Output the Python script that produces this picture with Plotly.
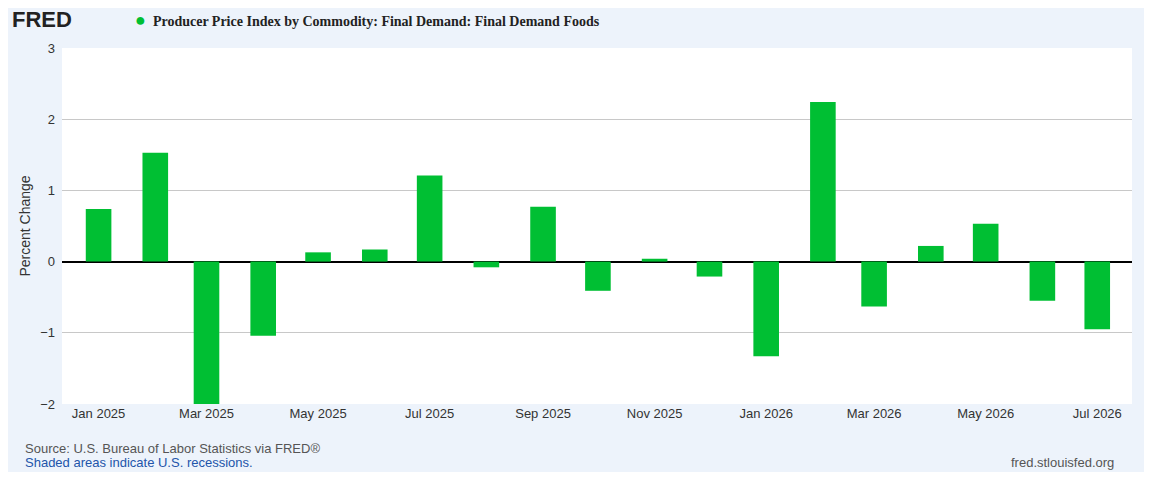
import plotly.graph_objects as go

months = ["2025-01-01", "2025-02-01", "2025-03-01", "2025-04-01", "2025-05-01", "2025-06-01",
          "2025-07-01", "2025-08-01", "2025-09-01", "2025-10-01", "2025-11-01", "2025-12-01",
          "2026-01-01", "2026-02-01", "2026-03-01", "2026-04-01", "2026-05-01", "2026-06-01",
          "2026-07-01"]
pct_change = [0.74, 1.53, -2.0, -1.04, 0.13, 0.17, 1.21, -0.08, 0.77, -0.41, 0.04, -0.21,
              -1.33, 2.24, -0.63, 0.22, 0.53, -0.55, -0.95]

fig = go.Figure(go.Bar(x=months, y=pct_change, marker_color="#00bf33",
                       marker_line_width=0, width=1000 * 3600 * 24 * 14))

fig.update_layout(
    width=1136, height=464,
    paper_bgcolor="#edf3fb", plot_bgcolor="white",
    margin=dict(l=54, r=12, t=40, b=68),
    showlegend=False,
    font=dict(family="Liberation Sans, Arial", size=13, color="#333"),
)
fig.update_xaxes(
    range=["2024-12-12", "2026-07-20"],
    tickvals=["2025-01-01", "2025-03-01", "2025-05-01", "2025-07-01", "2025-09-01",
              "2025-11-01", "2026-01-01", "2026-03-01", "2026-05-01", "2026-07-01"],
    tickformat="%b %Y", showgrid=False, ticks="", showline=False,
)
fig.update_yaxes(
    range=[-2, 3], dtick=1, showgrid=True, gridcolor="#c8c8c8",
    zeroline=True, zerolinecolor="black", zerolinewidth=2,
    title=dict(text="Percent Change", font=dict(size=14), standoff=6), ticks="",
    ticklabelstandoff=6, automargin=False,
)

fig.add_annotation(xref="paper", yref="paper", x=-0.049, y=1.079, xanchor="left", yanchor="middle",
                   text="<b>FRED</b>", showarrow=False,
                   font=dict(size=22, color="#222", family="Liberation Sans, Arial"))
fig.add_annotation(xref="paper", yref="paper", x=0.066, y=1.079, xanchor="left", yanchor="middle",
                   text="<span style='color:#00bf33;font-size:18px'>●</span>  <b>Producer Price Index by Commodity: Final Demand: Final Demand Foods</b>",
                   showarrow=False, font=dict(size=14, color="#222", family="Liberation Serif, serif"))
fig.add_annotation(xref="paper", yref="paper", x=-0.036, y=-0.125, xanchor="left", yanchor="middle",
                   text="Source: U.S. Bureau of Labor Statistics via FRED®", showarrow=False,
                   font=dict(size=13, color="#555"))
fig.add_annotation(xref="paper", yref="paper", x=-0.036, y=-0.163, xanchor="left", yanchor="middle",
                   text="Shaded areas indicate U.S. recessions.", showarrow=False,
                   font=dict(size=13, color="#2255aa"))
fig.add_annotation(xref="paper", yref="paper", x=0.985, y=-0.163, xanchor="right", yanchor="middle",
                   text="fred.stlouisfed.org", showarrow=False,
                   font=dict(size=13, color="#555"))

fig.write_html("out.html")
